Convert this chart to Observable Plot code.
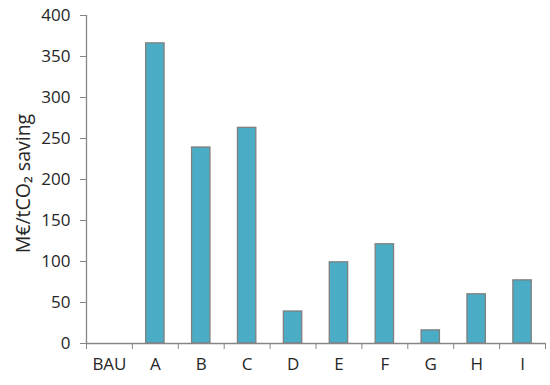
<!DOCTYPE html>
<html>
<head>
<meta charset="utf-8">
<script src="https://cdn.jsdelivr.net/npm/d3@7"></script>
<script src="https://cdn.jsdelivr.net/npm/@observablehq/plot@0.6"></script>
<style>
  html, body { margin: 0; padding: 0; background: #fff; }
</style>
</head>
<body>
<div id="chart"></div>
<script>
const categories = ["BAU", "A", "B", "C", "D", "E", "F", "G", "H", "I"];
const values = [0, 366, 239, 263, 39, 99, 121, 16, 60, 77];
const yTicks = [0, 50, 100, 150, 200, 250, 300, 350, 400];
const yLabel = "M€/tCO₂ saving";

const data = categories.map((c, i) => ({cat: c, i, v: values[i]}));
const axisColor = "#868686";
const textColor = "#262626";

const chart = Plot.plot({
  width: 550,
  height: 385,
  marginLeft: 86,
  marginRight: 5,
  marginTop: 15,
  marginBottom: 42,
  style: {fontFamily: "'Open Sans', sans-serif", fontSize: "17px", color: textColor, background: "#fff"},
  x: {domain: [0, categories.length], axis: null},
  y: {domain: [0, 400], axis: null},
  marks: [
    Plot.rectY(data.filter(d => d.v > 0), {x1: d => d.i + 0.3, x2: d => d.i + 0.7, y: "v", fill: "#4BACC6", stroke: "#7f7f7f", strokeWidth: 1.3}),
    Plot.axisY({ticks: yTicks, tickSize: 6, tickPadding: 10, stroke: axisColor, fill: textColor, fontSize: 17, label: null}),
    Plot.text([yLabel], {text: d => d, frameAnchor: "left", textAnchor: "middle", lineAnchor: "middle", dx: -63, dy: 4, rotate: -90, fontSize: 19.5, fill: textColor}),
    Plot.ruleX([0], {stroke: axisColor, strokeWidth: 1.3}),
    Plot.ruleY([0], {stroke: axisColor, strokeWidth: 1.3}),
    Plot.axisX({ticks: d3.range(0, categories.length + 1), tickSize: 6, tickFormat: () => "", stroke: axisColor}),
    Plot.axisX({ticks: categories.map((c, i) => i + 0.5), tickSize: 0, tickPadding: 14, tickFormat: (d) => categories[Math.floor(d)], fill: textColor, fontSize: 17, label: null})
  ]
});
document.getElementById("chart").appendChild(chart);
</script>
</body>
</html>
